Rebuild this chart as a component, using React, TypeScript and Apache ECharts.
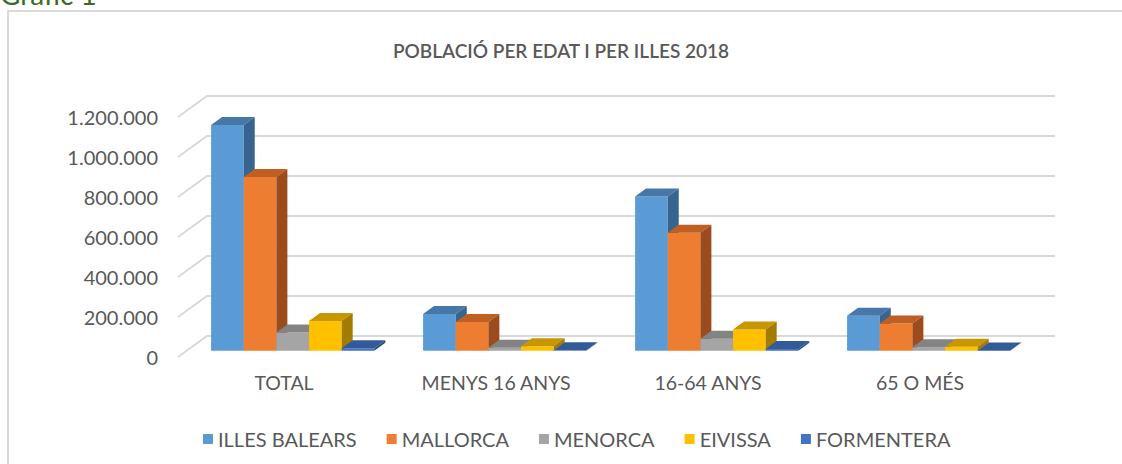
import React, { useEffect, useRef } from "react";
import * as echarts from "echarts";

const categories = ["TOTAL", "MENYS 16 ANYS", "16-64 ANYS", "65 O MÉS"];
const seriesNames = ["ILLES BALEARS", "MALLORCA", "MENORCA", "EIVISSA", "FORMENTERA"];
const illesBalears = [1128908, 183500, 771000, 174400];
const mallorca = [868693, 143000, 590000, 135700];
const menorca = [91170, 14200, 60000, 16970];
const eivissa = [147914, 22500, 106000, 19400];
const formentera = [12111, 1900, 8600, 1611];
const yTicks = [0, 200000, 400000, 600000, 800000, 1000000, 1200000];

const seriesValues = [illesBalears, mallorca, menorca, eivissa, formentera];

const shades = [
  { front: "#5b9bd5", top: "#4677a8", side: "#386490" },
  { front: "#ed7d31", top: "#bf5f22", side: "#9c4c1c" },
  { front: "#a5a5a5", top: "#838383", side: "#6e6e6e" },
  { front: "#ffc000", top: "#c79600", side: "#a37b00" },
  { front: "#4472c4", top: "#335a99", side: "#2a4c85" },
];

const FONT = "Lato, 'Open Sans', sans-serif";
const WALL_DX = 29;
const WALL_DY = -21;
const BAR_DX = 11;
const BAR_DY = -8;
const OFF_DX = 8.7;
const OFF_DY = -6.3;
const GROUP_FRAC = 0.77;

const fmt = (v: number) => String(v).replace(/\B(?=(\d{3})+(?!\d))/g, ".");

export default function App() {
  const ref = useRef<HTMLDivElement>(null);
  useEffect(() => {
    document.body.style.margin = "0";
    const chart = echarts.init(ref.current!, null, { renderer: "svg" });
    const nCat = categories.length;
    const gridSeries: any = {
      type: "custom",
      name: "grid",
      z: 1,
      silent: true,
      data: yTicks.map((v) => [0, v]),
      renderItem: (params: any, api: any) => {
        const p = api.coord([0, api.value(1)]);
        const bw = api.size([1, 0])[0];
        const x0 = p[0] - bw / 2;
        return {
          type: "polyline",
          shape: {
            points: [
              [x0, p[1]],
              [x0 + WALL_DX, p[1] + WALL_DY],
              [x0 + nCat * bw + WALL_DX, p[1] + WALL_DY],
            ],
          },
          style: { stroke: "#d9d9d9", lineWidth: 2, fill: "none" },
        };
      },
    };
    const barSeries = seriesValues.map((vals, idx) => ({
      type: "custom",
      name: seriesNames[idx],
      z: 2,
      itemStyle: { color: shades[idx].front },
      data: vals.map((v, i) => [i, v]),
      renderItem: (params: any, api: any) => {
        const cat = api.value(0);
        const val = api.value(1);
        const base = api.coord([cat, 0]);
        const top = api.coord([cat, val]);
        const bw = api.size([1, 0])[0];
        const barW = (bw * GROUP_FRAC) / seriesValues.length;
        const x = base[0] - (seriesValues.length / 2) * barW + idx * barW + OFF_DX;
        const yb = base[1] + OFF_DY;
        const yt = top[1] + OFF_DY;
        const s = shades[idx];
        return {
          type: "group",
          children: [
            {
              type: "rect",
              shape: { x, y: yt, width: barW, height: Math.max(yb - yt, 0.5) },
              style: { fill: s.front },
            },
            {
              type: "polygon",
              shape: {
                points: [
                  [x, yt],
                  [x + barW, yt],
                  [x + barW + BAR_DX, yt + BAR_DY],
                  [x + BAR_DX, yt + BAR_DY],
                ],
              },
              style: { fill: s.top },
            },
            {
              type: "polygon",
              shape: {
                points: [
                  [x + barW, yt],
                  [x + barW + BAR_DX, yt + BAR_DY],
                  [x + barW + BAR_DX, yb + BAR_DY],
                  [x + barW, yb],
                ],
              },
              style: { fill: s.side },
            },
          ],
        };
      },
    }));

    chart.setOption({
      animation: false,
      backgroundColor: "#ffffff",
      title: {
        text: "POBLACIÓ PER EDAT I PER ILLES 2018",
        left: "center",
        top: 36,
        textStyle: { color: "#595959", fontSize: 19, fontWeight: 600, fontFamily: FONT },
      },
      legend: {
        data: seriesNames,
        left: 198,
        top: 424,
        icon: "rect",
        itemWidth: 10,
        itemHeight: 10,
        itemGap: 30,
        textStyle: { color: "#595959", fontSize: 20, fontFamily: FONT },
      },
      grid: { left: 178, right: 96, top: 117, bottom: 107, containLabel: false },
      xAxis: {
        type: "category",
        data: categories,
        axisLine: { show: false },
        axisTick: { show: false },
        splitLine: { show: false },
        axisLabel: { color: "#595959", fontSize: 19.5, margin: 15, fontFamily: FONT },
      },
      yAxis: {
        type: "value",
        min: 0,
        max: 1200000,
        interval: 200000,
        axisLine: { show: false },
        axisTick: { show: false },
        splitLine: { show: false },
        axisLabel: { color: "#595959", fontSize: 20, margin: 20, fontFamily: FONT, formatter: fmt },
      },
      graphic: [
        {
          type: "rect",
          shape: { x: 8, y: 11, width: 1130, height: 470 },
          style: { fill: "none", stroke: "#d9d9d9", lineWidth: 2 },
          silent: true,
        },
        {
          type: "text",
          x: 0,
          y: -20,
          style: { text: "Gràfic 1", fill: "#3a6b24", fontSize: 28, fontFamily: FONT },
          silent: true,
        },
      ],
      series: [gridSeries, ...barSeries],
    });
    return () => chart.dispose();
  }, []);
  return <div ref={ref} style={{ width: 1122, height: 464, overflow: "hidden" }} />;
}
